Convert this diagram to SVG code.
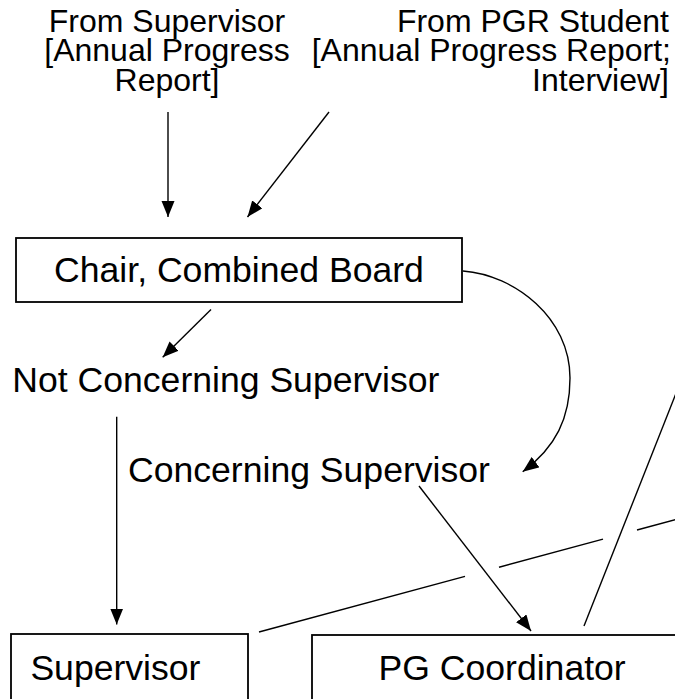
<svg xmlns="http://www.w3.org/2000/svg" width="675" height="699" viewBox="0 0 675 699">
<style>
  .t{font-family:"Liberation Sans",Arial,sans-serif;fill:#000}
  .big{font-size:35.6px}
  .small{font-size:32px}
  .box{fill:#fff;stroke:#000;stroke-width:1.8}
  .c{fill:none;stroke:#000;stroke-width:1.4}
</style>
<defs>
  <marker id="ah" markerUnits="userSpaceOnUse" markerWidth="17" markerHeight="14" refX="16" refY="6.5" orient="auto">
    <path d="M0,0 L16,6.5 L0,13 z" fill="#000"/>
  </marker>
</defs>
<rect width="675" height="699" fill="#fff"/>
<g id="src-supervisor">
  <text class="t small" x="167" y="31.7" text-anchor="middle">From Supervisor</text>
  <text class="t small" x="167" y="61.2" text-anchor="middle">[Annual Progress</text>
  <text class="t small" x="167" y="90.7" text-anchor="middle">Report]</text>
</g>
<g id="src-student">
  <text class="t small" x="669" y="31.7" text-anchor="end">From PGR Student</text>
  <text class="t small" x="671" y="61.2" text-anchor="end">[Annual Progress Report;</text>
  <text class="t small" x="669" y="90.7" text-anchor="end">Interview]</text>
</g>
<g id="chair">
  <rect class="box" x="16" y="238" width="446" height="64"/>
  <text class="t big" x="239" y="281.7" text-anchor="middle">Chair, Combined Board</text>
</g>
<g id="not-concerning">
  <text class="t big" x="12.3" y="391.7">Not Concerning Supervisor</text>
</g>
<g id="concerning">
  <text class="t big" x="128" y="482">Concerning Supervisor</text>
</g>
<g id="supervisor">
  <rect class="box" x="11" y="634" width="237" height="90"/>
  <text class="t big" x="30.4" y="680">Supervisor</text>
</g>
<g id="pg-coordinator">
  <rect class="box" x="312" y="635" width="400" height="90"/>
  <text class="t big" x="378.5" y="680">PG Coordinator</text>
</g>
<g id="connectors">
  <line class="c" x1="168" y1="112" x2="168" y2="217" marker-end="url(#ah)"/>
  <line class="c" x1="329" y1="112" x2="247.5" y2="217" marker-end="url(#ah)"/>
  <line class="c" x1="211" y1="309.5" x2="162.7" y2="357.3" marker-end="url(#ah)"/>
  <line class="c" x1="116.7" y1="416.7" x2="116.7" y2="624.5" marker-end="url(#ah)"/>
  <path class="c" d="M463,271 C515,275 570,318 570,378 C570,418 556,447 522.7,471.7" marker-end="url(#ah)"/>
  <line class="c" x1="419" y1="486" x2="531" y2="631" marker-end="url(#ah)"/>
  <line class="c" x1="584" y1="626" x2="690" y2="358"/>
  <line class="c" x1="259" y1="632" x2="465" y2="576.4"/>
  <line class="c" x1="499" y1="567.2" x2="603" y2="539.1"/>
  <line class="c" x1="637" y1="530" x2="690" y2="515.6"/>
</g>
</svg>
